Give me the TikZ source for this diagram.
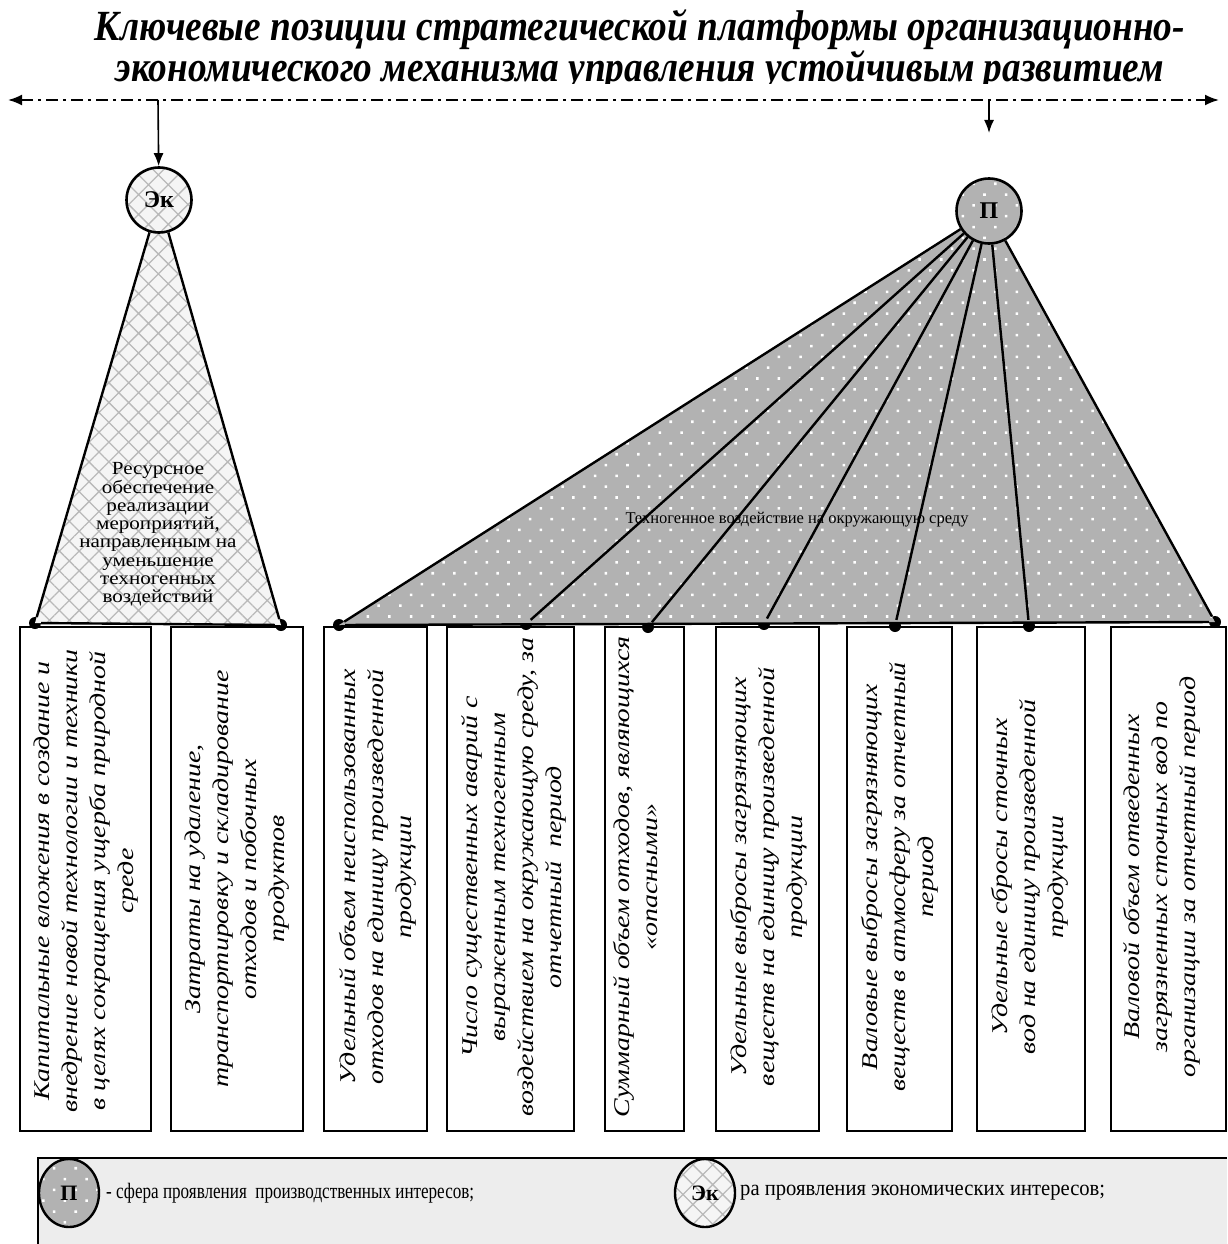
\documentclass[tikz,border=0pt]{standalone}
\usepackage{fontspec}
\setmainfont{Liberation Serif}
\usepackage{graphicx}
\usetikzlibrary{arrows.meta,patterns.meta,shapes.geometric}
\newcommand{\bxtxt}[1]{\scalebox{1.24}[1]{\begin{tabular}{@{}c@{}}#1\end{tabular}}}
\begin{document}
\begin{tikzpicture}[x=1pt,y=-1pt,
  ekfill/.style={preaction={fill=gray!8}, pattern={Hatch[angle=45,distance=14pt,line width=1.3pt]}, pattern color=gray!55},
  pfill/.style={preaction={fill=gray!60}, pattern={Dots[angle=45,distance=15.3pt,radius=1.8pt]}, pattern color=white},
  boxst/.style={draw, line width=1.3pt, inner sep=0pt, minimum height=504pt, minimum width=#1},
  btxt/.style={rotate=90, inner sep=0pt, font=\fontsize{22.5}{28}\selectfont\itshape},
  dotst/.style={circle, fill=black, inner sep=0pt, minimum size=12pt},
  bigcirc/.style={circle, draw, line width=2.6pt, minimum size=65pt, inner sep=0pt, font=\fontsize{24}{24}\selectfont\bfseries},
  legcirc/.style={ellipse, draw, line width=2.4pt, minimum width=60pt, minimum height=68pt, inner sep=0pt, font=\fontsize{22}{22}\selectfont\bfseries},
  edge2/.style={line width=2.4pt},
  tip/.style={-{Latex[length=13pt,width=10pt]}, line width=1.6pt},
  titlef/.style={anchor=base, inner sep=0pt, font=\fontsize{43}{43}\selectfont\bfseries\itshape},
  ]
\useasboundingbox (0,0) rectangle (1227,1244);

% title
\node[titlef] (title1) at (640,41)
  {\resizebox{1090pt}{\height}{Ключевые позиции стратегической платформы организационно-}};
\begin{scope}
\clip (0,0) rectangle (1227,84);
\node[titlef] (title2) at (640,82)
  {\resizebox{1048pt}{\height}{экономического механизма управления устойчивым развитием}};
\end{scope}

% dash-dot axis
\coordinate (L) at (8,100);
\coordinate (R) at (1219,100);
\draw[line width=2pt, dash pattern=on 12pt off 5pt on 3pt off 5pt,
  {Latex[length=14pt,width=11pt]}-{Latex[length=14pt,width=11pt]}] (L) -- (R);
\coordinate (LA) at (158,100);
\coordinate (RA) at (989,100);
\coordinate (RAe) at (989,133);

% left triangle
\coordinate (Ekc) at (159,200);
\node[dotst] (a1) at (35,623) {};
\node[dotst] (a2) at (281,625) {};
\fill[ekfill] (Ekc) -- (a1.center) -- (a2.center) -- cycle;
\node[bigcirc, ekfill] (Ek) at (Ekc) {Эк};
\draw[edge2] (Ek) -- (a1) -- (a2) -- (Ek);
\draw[tip] (LA) -- (Ek);
\node[inner sep=0pt, font=\fontsize{18.5}{18.2}\selectfont] (restext) at (158,535)
  {\scalebox{1.14}[1]{\begin{tabular}{@{}c@{}}Ресурсное\\обеспечение\\реализации\\мероприятий,\\направленным на\\уменьшение\\техногенных\\воздействий\end{tabular}}};

% right fan
\coordinate (Pc) at (989,211);
\node[dotst] (d1) at (339,625) {};
\node[dotst] (d2) at (526,624) {};
\node[dotst] (d3) at (648,627) {};
\node[dotst] (d4) at (764,624) {};
\node[dotst] (d5) at (895,626) {};
\node[dotst] (d6) at (1029,626) {};
\node[dotst] (d7) at (1215,622) {};
\fill[pfill] (Pc) -- (d1.center) -- (d7.center) -- cycle;
\node[bigcirc, pfill] (P) at (Pc) {П};
\draw[tip] (RA) -- (RAe);
\foreach \d in {d1,d2,d3,d4,d5,d6,d7} \draw[edge2] (P) -- (\d);
\draw[edge2] (d1) -- (d7);
\node[inner sep=0pt, font=\fontsize{16.5}{16.5}\selectfont] (tech) at (797,520) {Техногенное воздействие на окружающую среду};

% boxes
\node[boxst=131pt] (b1) at (85.5,879) {};
\node[boxst=132pt] (b2) at (237,879) {};
\node[boxst=103pt] (b3) at (375.5,879) {};
\node[boxst=127pt] (b4) at (510.5,879) {};
\node[boxst=79pt] (b5) at (644.5,879) {};
\node[boxst=103pt] (b6) at (767.5,879) {};
\node[boxst=105pt] (b7) at (899.5,879) {};
\node[boxst=108pt] (b8) at (1031,879) {};
\node[boxst=115pt] (b9) at (1168.5,879) {};

\node[btxt] (t1) at (85.5,881) {\bxtxt{Капитальные вложения в создание и\\внедрение новой технологии и техники\\в целях сокращения ущерба природной\\среде}};
\node[btxt] (t2) at (237,879) {\bxtxt{Затраты на удаление,\\транспортировку и складирование\\отходов и побочных\\продуктов}};
\node[btxt] (t3) at (378,877) {\bxtxt{Удельный объем неиспользованных\\отходов на единицу произведенной\\продукции}};
\node[btxt] (t4) at (514,877) {\bxtxt{Число существенных аварий с\\выраженным техногенным\\воздействием на окружающую среду, за\\отчетный\ \ период}};
\node[btxt] (t5) at (638,877) {\bxtxt{Суммарный объем отходов, являющихся\\«опасными»}};
\node[btxt] (t6) at (769,877) {\bxtxt{Удельные выбросы загрязняющих\\веществ на единицу произведенной\\продукции}};
\node[btxt] (t7) at (900,877) {\bxtxt{Валовые выбросы загрязняющих\\веществ в атмосферу за отчетный\\период}};
\node[btxt] (t8) at (1030,877) {\bxtxt{Удельные сбросы сточных\\вод на единицу произведенной\\продукции}};
\node[btxt] (t9) at (1162,877) {\bxtxt{Валовой объем отведенных\\загрязненных сточных вод по\\организации за отчетный период}};

% legend
\fill[gray!14] (38,1158) rectangle (1227,1244);
\draw[line width=2pt] (38,1244) -- (38,1158) -- (1227,1158);
\node[legcirc, pfill] (LP) at (69,1193) {П};
\node[anchor=west, inner sep=0pt, font=\fontsize{22}{22}\selectfont] (lt1) at (106,1193)
  {\resizebox{368pt}{\height}{- сфера проявления\ \ производственных интересов;}};
\node[legcirc, ekfill] (LE) at (705,1193) {Эк};
\node[anchor=west, inner sep=0pt, font=\fontsize{22}{22}\selectfont] (lt2) at (740,1193)
  {\resizebox{365pt}{\height}{ра проявления экономических интересов;}};
\end{tikzpicture}
\end{document}
